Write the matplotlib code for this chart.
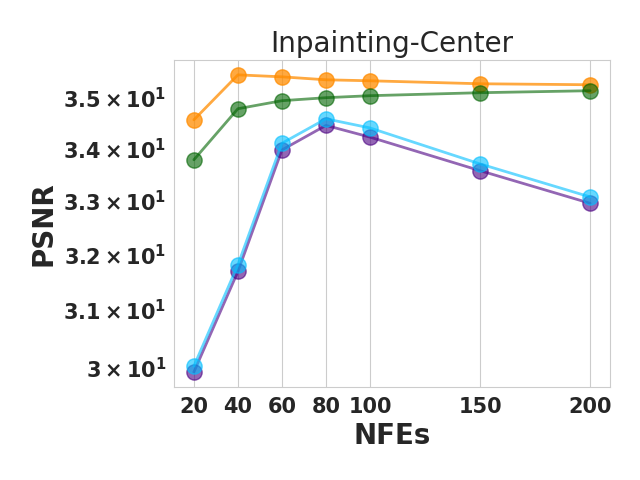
import matplotlib
matplotlib.use('Agg')
import matplotlib.pyplot as plt
import seaborn as sns

nfes = [20, 40, 60, 80, 100, 150, 200]
psnr_orange = [34.56, 35.46, 35.42, 35.36, 35.34, 35.28, 35.26]
psnr_green = [33.78, 34.78, 34.94, 35.00, 35.04, 35.10, 35.14]
psnr_purple = [29.92, 31.69, 33.97, 34.45, 34.22, 33.57, 32.95]
psnr_cyan = [30.02, 31.81, 34.10, 34.58, 34.40, 33.70, 33.07]

sns.set_style('whitegrid')

fig = plt.figure(figsize=(6.4, 4.8), dpi=100)
ax = fig.add_subplot(111)

ax.plot(nfes, psnr_orange, marker='o', markersize=11, linewidth=2, color='darkorange', alpha=0.75)
ax.plot(nfes, psnr_green, marker='o', markersize=11, linewidth=2, color='darkgreen', alpha=0.6)
ax.plot(nfes, psnr_purple, marker='o', markersize=11, linewidth=2, color='indigo', alpha=0.6)
ax.plot(nfes, psnr_cyan, marker='o', markersize=11, linewidth=2, color='deepskyblue', alpha=0.6)

ax.set_yscale('log')
ax.set_xticks(nfes)
ax.tick_params(axis='both', labelsize=15)
ax.tick_params(axis='y', which='minor', labelsize=15)

ax.set_xlabel('NFEs', fontsize=20, fontweight='bold')
ax.set_ylabel('PSNR', fontsize=20, fontweight='bold')
ax.set_title('Inpainting-Center', fontsize=20)

plt.subplots_adjust(left=0.272, right=0.953, top=0.875, bottom=0.194)
fig.canvas.draw()
for lbl in ax.get_xticklabels() + ax.get_yticklabels(which='both'):
    lbl.set_fontweight('bold')
plt.savefig('out.png', dpi=100)
